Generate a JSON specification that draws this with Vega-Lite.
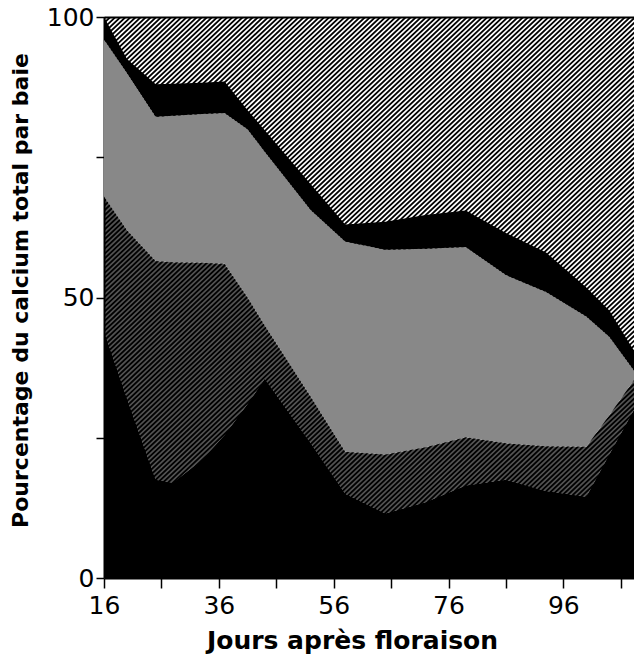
{
  "$schema": "https://vega.github.io/schema/vega-lite/v6.json",
  "width": 530,
  "height": 561,
  "autosize": {"type": "none"},
  "padding": {"left": 104, "top": 17, "right": 0, "bottom": 76},
  "background": "white",
  "config": {
    "view": {"stroke": null},
    "axis": {
      "domainColor": "black",
      "domainWidth": 2,
      "tickColor": "black",
      "tickWidth": 1.5,
      "grid": false,
      "labelFont": "DejaVu Sans",
      "labelFontSize": 25,
      "labelColor": "black",
      "labelFlush": false,
      "labelOverlap": false,
      "titleFont": "DejaVu Sans",
      "titleFontWeight": "bold",
      "titleColor": "black"
    }
  },
  "layer": [
    {
      "data": {"values": [{}]},
      "mark": {"type": "rule", "clip": true, "strokeWidth": 820, "strokeDash": [1.8, 1.7], "strokeCap": "butt", "color": "#000000"},
      "encoding": {
        "x": {"datum": 16, "type": "quantitative", "scale": {"domain": [16, 108.3], "nice": false, "zero": false},
          "axis": {"orient": "top", "labels": false, "ticks": false, "title": null}},
        "x2": {"datum": 108.3},
        "y": {"datum": 100, "type": "quantitative", "scale": {"domain": [0, 100], "nice": false},
          "axis": {"values": [0, 25, 50, 75, 100], "labelExpr": "datum.value % 50 == 0 ? datum.label : ''", "tickSize": 8, "labelPadding": 2,
            "title": "Pourcentage du calcium total par baie", "titleFontSize": 22, "titleAngle": -90, "titleX": -84, "titleY": 273, "titleAlign": "center", "titleBaseline": "middle"}},
        "y2": {"datum": 0}
      }
    },
    {
      "data": {"values": [
        {"jour": 16, "c1": 44, "c2": 24, "c3": 28, "c4": 4, "c5": 0},
        {"jour": 20, "c1": 32, "c2": 30, "c3": 28, "c4": 2.5, "c5": 7.5},
        {"jour": 25, "c1": 17.5, "c2": 39, "c3": 25.7, "c4": 5.8, "c5": 12},
        {"jour": 28, "c1": 17, "c2": 39.3, "c3": 26.1, "c4": 5.7, "c5": 11.9},
        {"jour": 33, "c1": 21, "c2": 35.2, "c3": 26.5, "c4": 5.6, "c5": 11.7},
        {"jour": 37, "c1": 25.5, "c2": 30.5, "c3": 26.9, "c4": 5.6, "c5": 11.5},
        {"jour": 41, "c1": 31, "c2": 19, "c3": 30, "c4": 3.4, "c5": 16.6},
        {"jour": 44, "c1": 35.5, "c2": 9.5, "c3": 31, "c4": 3.8, "c5": 20.2},
        {"jour": 52, "c1": 24, "c2": 8.3, "c3": 33.3, "c4": 4.6, "c5": 29.8},
        {"jour": 58, "c1": 15, "c2": 7.5, "c3": 37.5, "c4": 3, "c5": 37},
        {"jour": 65, "c1": 11.5, "c2": 10.5, "c3": 36.5, "c4": 5, "c5": 36.5},
        {"jour": 72, "c1": 13.5, "c2": 9.8, "c3": 35.4, "c4": 6, "c5": 35.3},
        {"jour": 79, "c1": 16.5, "c2": 8.6, "c3": 33.9, "c4": 6.5, "c5": 34.5},
        {"jour": 86, "c1": 17.5, "c2": 6.5, "c3": 30, "c4": 7.5, "c5": 38.5},
        {"jour": 93, "c1": 15.5, "c2": 8, "c3": 27.5, "c4": 7, "c5": 42},
        {"jour": 100, "c1": 14.5, "c2": 8.9, "c3": 23.2, "c4": 5.2, "c5": 48.2},
        {"jour": 104, "c1": 22, "c2": 7, "c3": 14, "c4": 4.7, "c5": 52.3},
        {"jour": 108.3, "c1": 30, "c2": 5.3, "c3": 1.7, "c4": 3.5, "c5": 59.5}
      ]},
      "transform": [
        {"fold": ["c1", "c2", "c3", "c4", "c5"], "as": ["couche", "pct"]}
      ],
      "mark": {"type": "area", "interpolate": "linear", "clip": true},
      "encoding": {
        "x": {"field": "jour", "type": "quantitative",
          "axis": {"orient": "bottom", "values": [16, 26, 36, 46, 56, 66, 76, 86, 96, 106],
            "labelExpr": "datum.value % 20 == 16 ? datum.label : ''", "tickSize": 10, "labelPadding": 5,
            "title": "Jours après floraison", "titleFontSize": 25, "titleX": 248, "titleY": 70, "titleAlign": "center", "titleBaseline": "alphabetic"}},
        "y": {"field": "pct", "type": "quantitative", "stack": "zero",
          "axis": {"values": [0, 25, 50, 75, 100], "labelExpr": "datum.value % 50 == 0 ? datum.label : ''", "tickSize": 8, "labelPadding": 2,
            "title": "Pourcentage du calcium total par baie", "titleFontSize": 22, "titleAngle": -90, "titleX": -84, "titleY": 273, "titleAlign": "center", "titleBaseline": "middle"}},
        "order": {"field": "couche", "type": "ordinal", "sort": "ascending"},
        "color": {"field": "couche", "type": "nominal",
          "scale": {"domain": ["c1", "c2", "c3", "c4", "c5"],
            "range": ["#000000", "rgba(0,0,0,0.68)", "#888888", "#000000", "rgba(255,255,255,0)"]},
          "legend": null}
      }
    }
  ],
  "resolve": {"axis": {"x": "independent"}}
}
